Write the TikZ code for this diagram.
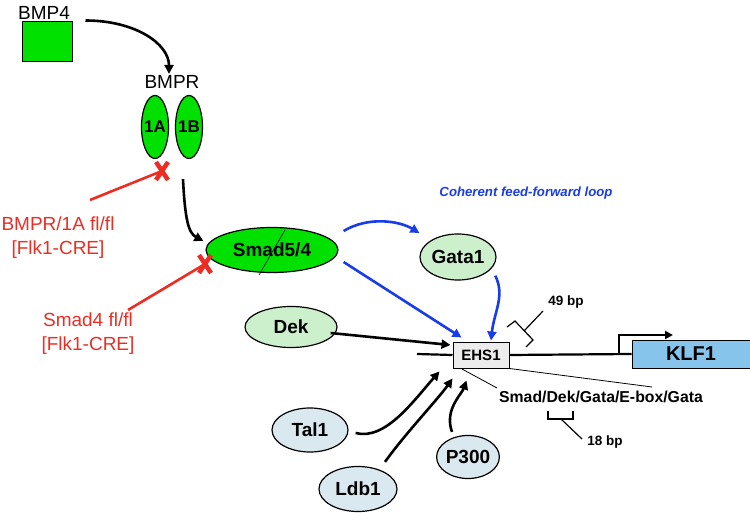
\documentclass[tikz,border=0pt]{standalone}
\usepackage{fontspec}
\setmainfont{Liberation Sans}
\usepackage{tikz}
\usetikzlibrary{
  arrows.meta,
  shapes.geometric,
  calc
}
\definecolor{bmpgreen}{RGB}{0,225,0}
\definecolor{palegreen}{RGB}{204,240,204}
\definecolor{paleblue}{RGB}{218,232,240}
\definecolor{klfblue}{RGB}{135,196,235}
\definecolor{koRed}{RGB}{235,45,35}
\definecolor{loopblue}{RGB}{25,60,235}

\begin{document}
\begin{tikzpicture}[x=1pt,y=-1pt,
  oval/.style={ellipse, draw, line width=1.2pt, inner sep=0pt,
    font=\bfseries\fontsize{19}{22}\selectfont},
  blk/.style={line width=2.6pt, -{Triangle[length=9pt,width=9pt]}},
  blu/.style={loopblue, line width=2.6pt, -{Triangle[length=9pt,width=9pt]}},
  ko/.style={koRed, line width=2.6pt},
  bp/.style={font=\bfseries\fontsize{13.5}{15}\selectfont}
]
  \useasboundingbox (0,0) rectangle (750,513);

  % ligand and receptor
  \node[draw, fill=bmpgreen, line width=1pt, minimum width=50pt,
    minimum height=40pt, inner sep=0pt] (bmp) at (47,42) {};
  \node[font=\fontsize{19}{22}\selectfont] (bmplbl) at (44,13) {BMP4};
  \node[font=\fontsize{19}{22}\selectfont] (bmpr) at (172,82) {BMPR};
  \node[oval, fill=bmpgreen, minimum width=27pt, minimum height=63pt, inner xsep=-4pt,
    font=\bfseries\fontsize{17}{20}\selectfont] (ra) at (155,127) {1A};
  \node[oval, fill=bmpgreen, minimum width=27pt, minimum height=63pt, inner xsep=-4pt,
    font=\bfseries\fontsize{17}{20}\selectfont] (rb) at (189,127) {1B};
  \draw[blk] ($(bmp.north east)+(13,-1)$)
    .. controls +(50,0) and +(0,-30) .. ($(bmpr.north)+(-3,2)$);

  % smad and its partners
  \node[oval, fill=bmpgreen, minimum width=132pt, minimum height=45pt]
    (smad) at (272,250) {Smad5/4};
  \draw[line width=0.6pt] (285,230) -- (259,275);
  \node[oval, fill=palegreen, minimum width=76pt, minimum height=46pt, inner xsep=-1pt]
    (gata) at (458,257) {Gata1};
  \node[oval, fill=palegreen, minimum width=92pt, minimum height=41pt]
    (dek) at (291,327) {Dek};
  \node[oval, fill=paleblue, minimum width=76pt, minimum height=44pt]
    (tal) at (310,430) {Tal1};
  \node[oval, fill=paleblue, minimum width=78pt, minimum height=45pt]
    (ldb) at (358,489) {Ldb1};
  \node[oval, fill=paleblue, minimum width=62pt, minimum height=43pt]
    (pth) at (468,457) {P300};
  \draw[blk] ($(rb.south)+(-6,20)$)
    .. controls +(2,40) and +(-15,-8) .. ($(smad.west)+(-2,-9)$);

  % knockouts
  \coordinate (xa) at (162,171);
  \coordinate (xb) at (205,264);
  \draw[ko] (90,200) -- (xa);
  \draw[ko] (128,310) -- (xb);
  \foreach \c in {xa,xb}
    \draw[koRed, line width=4.5pt] (\c) +(-6,-9) -- +(6,9) (\c) +(6,-9) -- +(-6,9);
  \node[koRed, align=center, font=\fontsize{19}{24}\selectfont] (kolbla)
    at (58,238) {BMPR/1A fl/fl\\{[Flk1-CRE]}};
  \node[koRed, align=center, font=\fontsize{19}{24}\selectfont] (kolblb)
    at (88,334) {Smad4 fl/fl\\{[Flk1-CRE]}};

  % KLF1 locus
  \node[draw, fill=gray!15, line width=1pt, minimum width=56pt, minimum height=26pt,
    inner sep=0pt, font=\bfseries\fontsize{15}{17}\selectfont] (ehs) at (481,355) {EHS1};
  \node[draw, fill=klfblue, line width=1pt, minimum width=118pt, minimum height=28pt,
    inner sep=0pt, font=\bfseries\fontsize{20}{22}\selectfont] (klf) at (691,354) {KLF1};
  \coordinate (dnastart) at (417,354);
  \coordinate (tss) at (619,354);
  \draw[line width=2.2pt] (dnastart) -- (ehs.west) (ehs.east) -- (klf.west);
  \draw[line width=2pt, -{Triangle[length=8pt,width=8pt]}] (tss) -- (619,335) -- (673,335);

  % feed-forward loop
  \node[loopblue, font=\bfseries\itshape\fontsize{13.2}{15}\selectfont] (ffl)
    at (526,193) {Coherent feed-forward loop};
  \draw[blu] ($(smad.east)+(5,-19)$)
    .. controls +(25,-15) and +(-20,-12) .. ($(gata.west)+(0,-24)$);
  \draw[blu] ($(smad.east)+(5,12)$) -- ($(ehs.north west)+(9,-4)$);
  \draw[blu] ($(gata.south east)+(10,2)$)
    .. controls +(10,20) and +(3,-28) .. ($(ehs.north)+(10,-1)$);

  % other factors
  \draw[blk] ($(dek.east)+(-7,6)$) -- ($(ehs.west)+(-2,-10)$);
  \draw[blk] ($(tal.east)+(7,3)$)
    .. controls +(30,8) and +(-25,28) .. ($(ehs.south west)+(-13,3)$);
  \draw[blk] ($(ldb.north)+(27,-4)$)
    .. controls +(20,-28) and +(-14,20) .. ($(ehs.south west)+(0,10)$);
  \draw[blk] ($(pth.north)+(-16,-3)$)
    .. controls +(-8,-22) and +(-5,14) .. ($(ehs.south west)+(14,12)$);

  % motif and spacings
  \node[font=\bfseries\fontsize{15.8}{18}\selectfont] (motif) at (601,397)
    {Smad/Dek/Gata/E-box/Gata};
  \draw[line width=0.8pt] (462,369) -- (497,388);
  \draw[line width=0.8pt] (ehs.south east) -- (652,387);
  \draw[line width=1.2pt] (507,327) -- (515,321) -- (533,340) -- (526,347);
  \draw[line width=1.2pt] (524,331) -- (543,311);
  \node[bp] (bpa) at (566,302) {49 bp};
  \draw[line width=1.2pt] (548,411) -- (548,419) -- (573,419) -- (573,411);
  \draw[line width=1.2pt] (561,419) -- (582,439);
  \node[bp] (bpb) at (605,442) {18 bp};

\end{tikzpicture}
\end{document}
